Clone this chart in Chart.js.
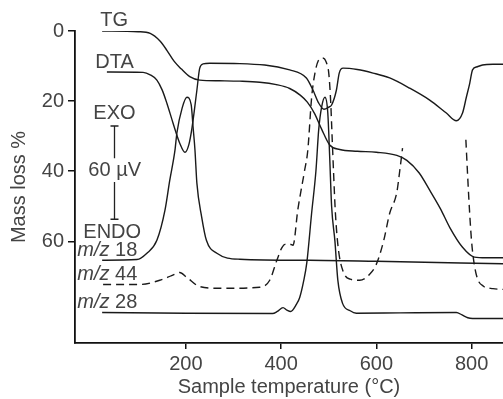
<!DOCTYPE html>
<html>
<head>
<meta charset="utf-8">
<script src="https://cdn.jsdelivr.net/npm/chart.js@4"></script>
<style>
  html, body { margin: 0; padding: 0; background: #fff; }
</style>
</head>
<body>
<canvas id="myChart" width="503" height="399"></canvas>
<script>
// ticks
const xTicks = [200, 400, 600, 800];
const yTicks = [0, 20, 40, 60];

// TG (mass loss %)
const tgTemp = [24, 100, 125, 145, 160, 175, 190, 208, 229, 270, 313, 355, 390, 418, 440, 455, 470, 485, 502, 523, 560, 600, 643, 664, 690, 712, 735, 754, 781, 806, 830, 866];
const tgVal = [0, 0.2, 0.7, 2.8, 5.5, 8.6, 10.8, 13, 14, 14.2, 14.3, 14.6, 15.3, 16.4, 18.3, 20.3, 23.5, 28, 32.5, 33.8, 34.3, 34.6, 35.5, 36.9, 40.5, 45.4, 50.8, 56, 61.7, 64.5, 64.7, 64.7];

// DTA (drawn on the same scale)
const dtaTemp = [34, 110, 125, 139, 150, 160, 173, 187, 198, 206, 213, 223, 229, 236, 250, 313, 418, 453, 467, 479, 490, 500, 506, 516, 522, 530, 560, 593, 628, 670, 712, 747, 768, 781, 789, 796, 802, 812, 823, 845, 866];
const dtaVal = [11.7, 11.8, 12.5, 14, 16.8, 20.6, 26.3, 32, 34.6, 32.5, 27.4, 16.9, 10.6, 9.4, 9.2, 9.3, 11.1, 13.4, 16.9, 20.6, 22.3, 21.7, 21.1, 16.9, 12, 10.6, 11, 12, 13.4, 16.3, 19.7, 23.4, 25.6, 23.4, 18.9, 15, 11.1, 10.2, 9.7, 9.5, 9.5];

// m/z 18
const ms18Temp = [24, 97, 118, 139, 156, 166, 177, 181, 192, 202, 211, 215, 219, 223, 233, 243, 265, 313, 460, 600, 866];
const ms18Val = [65.4, 65.2, 63.4, 59.7, 51.1, 42.6, 34, 29.1, 22, 18.9, 21, 27.4, 34, 43.4, 53, 59.7, 63.4, 65.1, 65.4, 65.7, 66.4];

// m/z 44 (dashed, goes off scale between ~655 and ~788)
const ms44Temp = [26, 104, 145, 170, 187, 202, 229, 271, 355, 376, 391, 402, 410, 418, 425, 435, 449, 456, 464, 471, 478, 487, 495, 500, 504, 507, 510, 514, 520, 530, 545, 565, 585, 600, 615, 628, 643, 649, 655, 720, 788, 792, 796, 800, 805, 812, 825, 845, 866];
const ms44Val = [72.3, 72.3, 71.1, 69.8, 68.9, 70.3, 72.9, 73.4, 73.1, 71.1, 65.4, 61.7, 60.8, 60.8, 61.1, 51, 40, 34, 19, 12, 8.5, 7.7, 9, 12, 20, 30, 40, 52, 62, 68.5, 70.8, 71.1, 69.5, 66.5, 60, 52, 46, 40, 33.4, null, 31, 42, 52, 60, 66, 70.5, 72.8, 73.5, 73.7];

// m/z 28
const ms28Temp = [24, 200, 382, 392, 404, 412, 420, 432, 439, 447, 454, 464, 473, 479, 485, 492, 498, 502, 506, 513, 519, 529, 545, 558, 650, 768, 780, 792, 802, 866];
const ms28Val = [80.3, 80.5, 80.6, 80, 78.9, 79.6, 80, 78, 76, 71.5, 66, 52, 40, 28, 21.7, 18.9, 23.4, 36, 50, 60, 71, 77.7, 79.8, 80.5, 80.4, 80.3, 81, 81.8, 82, 82];

const pts = (xs, ys) => xs.map((x, i) => ({ x: x, y: ys[i] }));

const fontFamily = '"Liberation Sans", Arial, sans-serif';
const textColor = '#444';
const lineColor = '#1a1a1a';

// curve labels + EXO/ENDO scale bar
const annotations = {
  id: 'annotations',
  afterDatasetsDraw(chart) {
    const ctx = chart.ctx;
    const x = chart.scales.x, y = chart.scales.y;
    const font = '20px ' + fontFamily;
    const italic = 'italic ' + font;
    ctx.save();
    ctx.fillStyle = textColor;
    ctx.strokeStyle = '#222';
    ctx.textBaseline = 'middle';
    ctx.textAlign = 'left';
    ctx.font = font;

    const put = (t, v, text) => ctx.fillText(text, x.getPixelForValue(t), y.getPixelForValue(v));
    put(20, -3.1, 'TG');
    put(9.6, 8.9, 'DTA');
    put(5.5, 23.4, 'EXO');
    put(-5, 39.7, '60 \u00b5V');
    put(-15.5, 57.4, 'ENDO');

    const mz = (v, num) => {
      const px = x.getPixelForValue(-28.1), py = y.getPixelForValue(v);
      ctx.font = italic;
      ctx.fillText('m/z', px, py);
      const w = ctx.measureText('m/z ').width;
      ctx.font = font;
      ctx.fillText(num, px + w, py);
    };
    mz(62.6, '18');
    mz(69.4, '44');
    mz(77.4, '28');

    // scale bar
    const bx = Math.round(x.getPixelForValue(49.5)) + 0.5;
    const top = y.getPixelForValue(27.1), bot = y.getPixelForValue(53.7);
    const g1 = y.getPixelForValue(36.3), g2 = y.getPixelForValue(43.1);
    ctx.lineWidth = 1.3;
    ctx.beginPath();
    ctx.moveTo(bx, top); ctx.lineTo(bx, g1);
    ctx.moveTo(bx, g2); ctx.lineTo(bx, bot);
    ctx.moveTo(bx - 4, top); ctx.lineTo(bx + 4, top);
    ctx.moveTo(bx - 4, bot); ctx.lineTo(bx + 4, bot);
    ctx.stroke();
    ctx.restore();
  }
};

const line = (label, data, dash) => ({
  label: label,
  data: data,
  borderColor: lineColor,
  borderWidth: 1.4,
  borderDash: dash || [],
  pointRadius: 0,
  showLine: true,
  fill: false,
  spanGaps: false,
  cubicInterpolationMode: 'monotone'
});

const ctx = document.getElementById('myChart');
const myChart = new Chart(ctx, {
  type: 'scatter',
  data: {
    datasets: [
      line('TG', pts(tgTemp, tgVal)),
      line('DTA', pts(dtaTemp, dtaVal)),
      line('m/z 18', pts(ms18Temp, ms18Val)),
      line('m/z 44', pts(ms44Temp, ms44Val), [8, 5]),
      line('m/z 28', pts(ms28Temp, ms28Val))
    ]
  },
  options: {
    responsive: false,
    devicePixelRatio: 1,
    animation: false,
    layout: { padding: { top: 31, right: 0, bottom: 0, left: 0 } },
    plugins: { legend: { display: false }, tooltip: { enabled: false } },
    scales: {
      x: {
        type: 'linear',
        min: -33,
        max: 866,
        afterBuildTicks: (scale) => { scale.ticks = xTicks.map(v => ({ value: v })); },
        afterFit: (scale) => { scale.height = 56; },
        grid: { display: true, drawOnChartArea: false, drawTicks: true, tickLength: 6, color: '#111', lineWidth: 1.5 },
        border: { display: true, color: '#111', width: 1.8 },
        ticks: { color: textColor, font: { family: fontFamily, size: 20 }, padding: 3, maxRotation: 0 },
        title: { display: true, text: 'Sample temperature (°C)', color: textColor, font: { family: fontFamily, size: 20 }, padding: { top: 0, bottom: 0 } }
      },
      y: {
        type: 'linear',
        reverse: true,
        min: 0,
        max: 89,
        afterBuildTicks: (scale) => { scale.ticks = yTicks.map(v => ({ value: v })); },
        afterFit: (scale) => { scale.width = 75; },
        grid: { display: true, drawOnChartArea: false, drawTicks: true, tickLength: 7, color: '#111', lineWidth: 1.5 },
        border: { display: true, color: '#111', width: 1.8 },
        ticks: { color: textColor, font: { family: fontFamily, size: 20 }, padding: 4 },
        title: { display: true, text: 'Mass loss %', color: textColor, font: { family: fontFamily, size: 20 }, padding: { top: 7, bottom: 0 } }
      }
    }
  },
  plugins: [annotations]
});
</script>
</body>
</html>
